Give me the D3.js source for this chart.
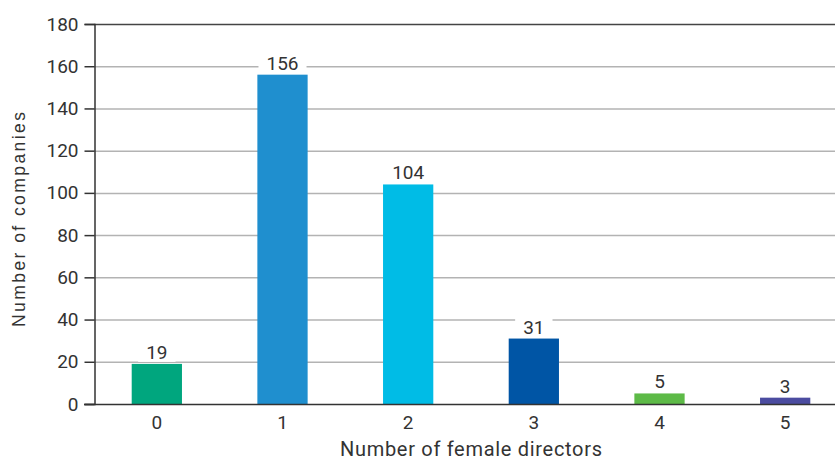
<!DOCTYPE html>
<html><head><meta charset="utf-8">
<script src="https://cdn.jsdelivr.net/npm/d3@7"></script>
<style>body{margin:0;background:#fff}svg{display:block}text{font-family:Roboto,"DejaVu Sans",sans-serif;fill:#333}</style>
</head><body><svg id="c" width="835" height="461"></svg>
<script>
const categories = ["0","1","2","3","4","5"];
const values = [19,156,104,31,5,3];
const colors = ["#00a67e","#1f8fcf","#00bce6","#0055a5","#5dba47","#4b4ca0"];
const yTicks = [0,20,40,60,80,100,120,140,160,180];

const svg = d3.select("#c");
const x = d3.scaleBand().domain(categories).range([94, 848]).paddingInner(0.6).paddingOuter(0.3);
const y = d3.scaleLinear().domain([0,180]).range([404, 24]);

// gridlines
svg.append("g").selectAll("line").data(yTicks.filter(d=>d>0)).join("line")
  .attr("x1",94).attr("x2",835).attr("y1",d=>y(d)+0.5).attr("y2",d=>y(d)+0.5)
  .attr("stroke",d=>d===180?"#444":"#b3b3b3").attr("stroke-width",1.5);

// y axis
const ya = svg.append("g").attr("transform","translate(94.5,0)")
  .call(d3.axisLeft(y).tickValues(yTicks).tickSize(10).tickPadding(6));
ya.select(".domain").attr("stroke","#333").attr("stroke-width",1.5);
ya.selectAll(".tick line").attr("stroke","#333").attr("stroke-width",1.5);
ya.selectAll(".tick text").attr("font-size",19).attr("fill","#333").style("font-family","Roboto,sans-serif");

// bars
svg.append("g").selectAll("rect").data(values).join("rect")
  .attr("x",(d,i)=>x(categories[i])).attr("width",x.bandwidth())
  .attr("y",d=>y(d)).attr("height",d=>y(0)-y(d)).attr("fill",(d,i)=>colors[i]);

// x axis
const xa = svg.append("g").attr("transform","translate(0,404.5)")
  .call(d3.axisBottom(x).tickSize(0).tickPadding(11.5));
xa.select(".domain").attr("d","M84,0H835").attr("stroke","#333").attr("stroke-width",1.5);
xa.selectAll(".tick text").attr("font-size",19).attr("fill","#333").style("font-family","Roboto,sans-serif");

// value labels with white background
const lg = svg.append("g").selectAll("g").data(values).join("g")
  .attr("transform",(d,i)=>`translate(${x(categories[i])+x.bandwidth()/2},${y(d)-5})`);
lg.each(function(d){
  const g = d3.select(this);
  const t = g.append("text").attr("text-anchor","middle").attr("font-size",19).text(d);
  const b = t.node().getBBox();
  g.insert("rect","text").attr("x",b.x-8).attr("y",b.y).attr("width",b.width+16).attr("height",b.height-2).attr("fill","#fff");
});

// titles
svg.append("text").attr("x",471).attr("y",456).attr("text-anchor","middle").attr("font-size",20)
  .attr("textLength",262).attr("lengthAdjust","spacing").text("Number of female directors");
svg.append("text").attr("transform","translate(25,219.5) rotate(-90)").attr("text-anchor","middle")
  .attr("font-size",17.5).style("font-family","'Liberation Sans',Arial,sans-serif")
  .attr("textLength",215).attr("lengthAdjust","spacing").text("Number of companies");
</script></body></html>
